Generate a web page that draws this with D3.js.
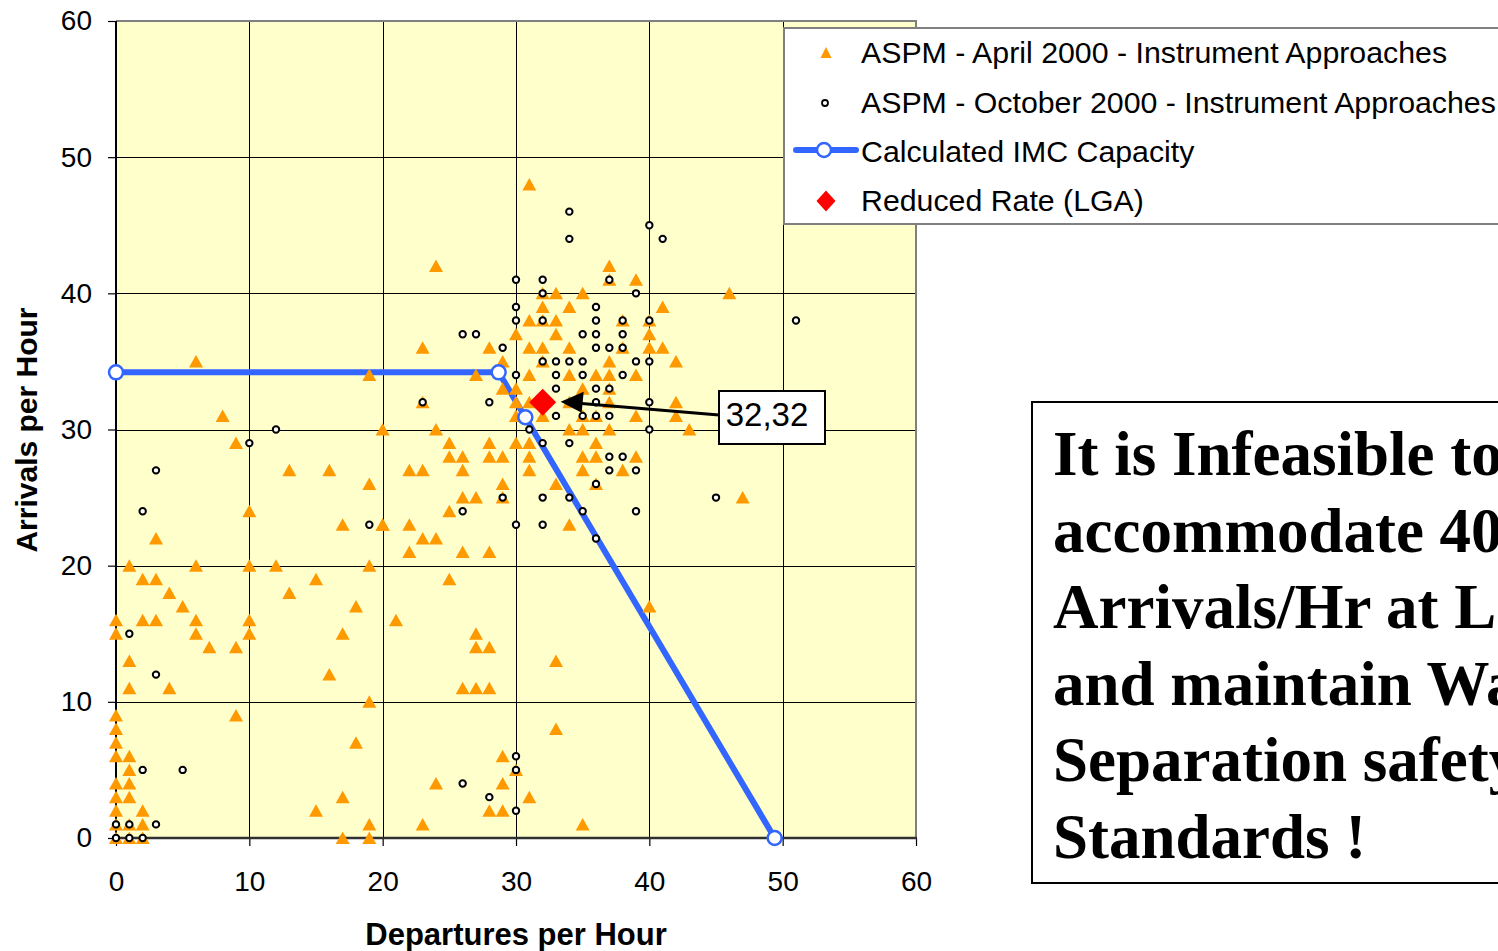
<!DOCTYPE html>
<html><head><meta charset="utf-8">
<script src="https://cdn.jsdelivr.net/npm/d3@7"></script>
<style>body{margin:0;background:#fff;overflow:hidden}svg{display:block}</style>
</head><body>
<svg id="c" width="1498" height="951"></svg>
<script>
// ---------- data ----------
const xTicks = [0,10,20,30,40,50,60];
const yTicks = [0,10,20,30,40,50,60];
const xTitle = "Departures per Hour";
const yTitle = "Arrivals per Hour";
const legendLabels = ["ASPM - April 2000 - Instrument Approaches","ASPM - October 2000 - Instrument Approaches","Calculated IMC Capacity","Reduced Rate (LGA)"];
const noteLines = ["It is Infeasible to","accommodate 40","Arrivals/Hr at LGA","and maintain Wake","Separation safety","Standards !"];

// ASPM April 2000 (departures, arrivals)
const aprilPoints = [
[6,35],[19,34],[8,31],[9,29],[20,30],[13,27],[16,27],[19,26],[10,24],[17,23],[20,23],[3,22],
[1,20],[6,20],[10,20],[12,20],[19,20],[2,19],[3,19],[15,19],[4,18],[13,18],[5,17],[18,17],
[0,16],[2,16],[3,16],[6,16],[10,16],[21,16],[0,15],[6,15],[10,15],[17,15],[7,14],[9,14],
[1,13],[16,12],[1,11],[4,11],[19,10],[0,9],[9,9],[0,8],[0,7],[18,7],[0,6],[1,6],[1,5],
[0,4],[1,4],[0,3],[1,3],[17,3],[0,2],[2,2],[15,2],[0,1],[1,1],[2,1],[19,1],
[0,0],[1,0],[2,0],[17,0],[19,0],
[24,42],[23,36],[23,32],[24,30],
[22,27],[23,27],[25,29],[25,28],[26,28],[28,29],[28,28],[29,28],[30,29],[31,29],[31,28],
[26,27],[31,27],[29,26],[33,26],[26,25],[27,25],[29,25],[25,24],
[20,23],[22,23],[34,23],[23,22],[24,22],[22,21],[26,21],[28,21],[25,19],[40,17],
[27,15],[27,14],[28,14],[33,13],[26,11],[27,11],[28,11],[33,8],[29,6],[30,5],[24,4],[29,4],
[31,3],[28,2],[29,2],[23,1],[35,1],
[35,28],[36,28],[39,28],[35,27],[38,27],[36,26],[34,30],[35,30],[37,30],[36,29],
[31,48],[37,42],[37,41],[39,41],[46,40],[32,40],[33,40],[35,40],[34,39],[41,39],[32,39],
[31,38],[32,38],[33,38],[38,38],[40,38],[30,37],[33,37],[40,37],
[28,36],[31,36],[32,36],[34,36],[38,36],[40,36],[41,36],
[29,35],[32,35],[37,35],[42,35],
[27,34],[31,34],[34,34],[36,34],[37,34],[39,34],
[29,33],[30,33],[35,33],[37,33],
[30,32],[31,32],[34,32],[37,32],[42,32],
[30,31],[32,31],[35,31],[36,31],[39,31],[42,31],[43,30],[47,25]
];

// ASPM October 2000 (departures, arrivals)
const octoberPoints = [
[12,30],[10,29],[3,27],[2,24],[19,23],[3,12],[1,15],[2,5],[5,5],[0,1],[1,1],[3,1],[0,0],[1,0],[2,0],
[23,32],[28,32],[26,37],[27,37],[29,36],
[30,41],[32,41],[32,40],[30,39],[30,38],[32,38],[32,35],[33,35],[34,35],[35,35],[30,34],[33,34],[33,33],
[34,46],[34,44],[40,45],[41,44],
[37,41],[39,40],[36,39],[36,38],[38,38],[40,38],[35,37],[36,37],[38,37],[36,36],[37,36],[38,36],
[39,35],[40,35],[35,34],[38,34],[36,33],[37,33],[36,32],[40,32],
[33,31],[35,31],[36,31],[37,31],[40,30],[31,30],[32,29],[34,29],
[37,28],[38,28],[37,27],[39,27],[36,26],[34,25],[32,25],[29,25],[26,24],[35,24],[39,24],
[30,23],[32,23],[36,22],[51,38],[45,25],
[30,6],[30,5],[26,4],[28,3],[30,2]
];

// Calculated IMC capacity curve
const capacityDep = [0, 28.7, 30.7, 49.4];
const capacityArr = [34.2, 34.2, 30.9, 0];

// Reduced rate (LGA)
const reducedDep = [32];
const reducedArr = [32];
const reducedLabel = "32,32";

// ---------- drawing ----------
const svg = d3.select('#c');
const sans = "Arial, 'Liberation Sans', sans-serif";
const serif = "'Times New Roman', 'Liberation Serif', serif";
const x = d3.scaleLinear().domain([0,60]).range([116,916]);
const y = d3.scaleLinear().domain([0,60]).range([838,21]);
const W = x(60)-x(0), H = y(0)-y(60);

svg.append('rect').attr('x',x(0)).attr('y',y(60)).attr('width',W).attr('height',H).attr('fill','#FFFFCC');

// grid
const inner = xTicks.filter(v=>v>0&&v<60);
svg.append('g').attr('transform',`translate(0,${y(0)})`)
  .call(d3.axisBottom(x).tickValues(inner).tickSize(-H).tickFormat(''))
  .call(g=>{g.select('.domain').remove(); g.selectAll('line').attr('stroke','#000').attr('stroke-width',1).attr('shape-rendering','crispEdges');});
svg.append('g').attr('transform',`translate(${x(0)},0)`)
  .call(d3.axisLeft(y).tickValues(yTicks.filter(v=>v>0&&v<60)).tickSize(-W).tickFormat(''))
  .call(g=>{g.select('.domain').remove(); g.selectAll('line').attr('stroke','#000').attr('stroke-width',1).attr('shape-rendering','crispEdges');});

// frame top/right
svg.append('path').attr('d',`M${x(0)},${y(60)}H${x(60)}V${y(0)}`).attr('fill','none').attr('stroke','#808080').attr('stroke-width',2);

// axes
const yAx = svg.append('g').attr('transform',`translate(${x(0)},0)`)
  .call(d3.axisLeft(y).tickValues(yTicks).tickSize(8).tickSizeOuter(0).tickPadding(16));
const xAx = svg.append('g').attr('transform',`translate(0,${y(0)})`)
  .call(d3.axisBottom(x).tickValues(xTicks).tickSize(8).tickSizeOuter(0).tickPadding(25));
[yAx,xAx].forEach(a=>{
  a.select('.domain').remove();
  a.selectAll('line').attr('stroke','#000').attr('stroke-width',1.2);
  a.selectAll('text').attr('font-family',sans).attr('font-size',28).attr('fill','#000');
});
svg.append('line').attr('x1',x(0)).attr('x2',x(0)).attr('y1',y(60)).attr('y2',y(0)).attr('stroke','#000').attr('stroke-width',2);
svg.append('line').attr('x1',x(0)-1).attr('x2',x(60)+1).attr('y1',y(0)).attr('y2',y(0)).attr('stroke','#303030').attr('stroke-width',2.5);

// axis titles
svg.append('text').attr('x',516).attr('y',945).attr('text-anchor','middle')
  .attr('font-family',sans).attr('font-weight','bold').attr('font-size',31).text(xTitle);
svg.append('text').attr('transform','translate(37,430) rotate(-90)').attr('text-anchor','middle')
  .attr('font-family',sans).attr('font-weight','bold').attr('font-size',30).text(yTitle);

// capacity line
const capData = capacityDep.map((d,i)=>[d,capacityArr[i]]);
svg.append('path').datum(capData)
  .attr('d',d3.line().x(d=>x(d[0])).y(d=>y(d[1])))
  .attr('fill','none').attr('stroke','#3366FF').attr('stroke-width',6).attr('stroke-linejoin','round');

// April triangles
const tri = 'M0,-6.5L7,6L-7,6Z';
svg.append('g').selectAll('path').data(aprilPoints).join('path')
  .attr('d',tri).attr('transform',d=>`translate(${x(d[0])},${y(d[1])})`).attr('fill','#FF9900');

// October circles
svg.append('g').selectAll('circle').data(octoberPoints).join('circle')
  .attr('cx',d=>x(d[0])).attr('cy',d=>y(d[1])).attr('r',3.2)
  .attr('fill','#fff').attr('stroke','#000').attr('stroke-width',2);

// capacity markers
svg.append('g').selectAll('circle').data(capData).join('circle')
  .attr('cx',d=>x(d[0])).attr('cy',d=>y(d[1])).attr('r',7)
  .attr('fill','#fff').attr('stroke','#3366FF').attr('stroke-width',2.5);

// reduced rate diamond
const dia = 'M0,-13.5L13.5,0L0,13.5L-13.5,0Z';
svg.append('g').selectAll('path').data(reducedDep.map((d,i)=>[d,reducedArr[i]])).join('path')
  .attr('d',dia).attr('transform',d=>`translate(${x(d[0])},${y(d[1])})`).attr('fill','#FF0000');

// annotation
const tipX = x(reducedDep[0])+18, tipY = y(reducedArr[0])-0.5;
const boxX = 719, boxY = 391, boxW = 106, boxH = 53;
svg.append('line').attr('x1',boxX).attr('y1',boxY+24).attr('x2',tipX+18).attr('y2',tipY+1.5)
  .attr('stroke','#000').attr('stroke-width',3);
svg.append('path').attr('d',`M${tipX},${tipY}L${tipX+23},${tipY-10}L${tipX+21},${tipY+11}Z`).attr('fill','#000');
svg.append('rect').attr('x',boxX).attr('y',boxY).attr('width',boxW).attr('height',boxH)
  .attr('fill','#fff').attr('stroke','#000').attr('stroke-width',2);
svg.append('text').attr('x',boxX+boxW/2-5).attr('y',boxY+35).attr('text-anchor','middle')
  .attr('font-family',sans).attr('font-size',33).text(reducedLabel);

// legend
const lg = svg.append('g');
lg.append('rect').attr('x',784).attr('y',28).attr('width',760).attr('height',196)
  .attr('fill','#fff').attr('stroke','#808080').attr('stroke-width',2);
const rowY = [53,103,152,201];
legendLabels.forEach((t,i)=>{
  lg.append('text').attr('x',861).attr('y',rowY[i]+10).attr('font-family',sans).attr('font-size',30.3).text(t);
});
lg.append('path').attr('d','M0,-6L5.5,5L-5.5,5Z').attr('transform',`translate(826,${rowY[0]})`).attr('fill','#FF9900');
lg.append('circle').attr('cx',825).attr('cy',rowY[1]).attr('r',3).attr('fill','#fff').attr('stroke','#000').attr('stroke-width',1.8);
lg.append('line').attr('x1',796).attr('x2',856).attr('y1',rowY[2]-2).attr('y2',rowY[2]-2).attr('stroke','#3366FF').attr('stroke-width',6).attr('stroke-linecap','round');
lg.append('circle').attr('cx',824).attr('cy',rowY[2]-2).attr('r',7).attr('fill','#fff').attr('stroke','#3366FF').attr('stroke-width',2.5);
lg.append('path').attr('d','M0,-10.5L9.5,0L0,10.5L-9.5,0Z').attr('transform',`translate(826,${rowY[3]})`).attr('fill','#FF0000');

// note box
const nb = svg.append('g');
nb.append('rect').attr('x',1032).attr('y',402).attr('width',600).attr('height',481)
  .attr('fill','#fff').attr('stroke','#000').attr('stroke-width',2);
noteLines.forEach((t,i)=>{
  nb.append('text').attr('x',1053).attr('y',475+i*76.6).attr('font-family',serif)
    .attr('font-weight','bold').attr('font-size',63).text(t);
});
</script>
</body></html>
